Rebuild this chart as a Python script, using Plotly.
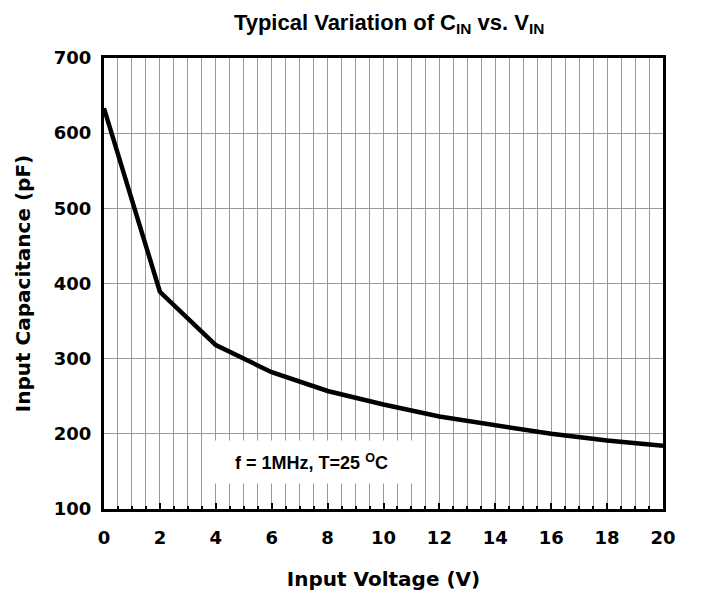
import plotly.graph_objects as go

voltage = [0, 2, 4, 6, 8, 10, 12, 14, 16, 18, 20]
capacitance = [633, 389, 318, 282, 257, 239, 223, 211, 200, 191, 184]
x_ticks = [0, 2, 4, 6, 8, 10, 12, 14, 16, 18, 20]
y_ticks = [100, 200, 300, 400, 500, 600, 700]

wide_font = "DejaVu Sans, sans-serif"
arial_font = "Liberation Sans, Arial, sans-serif"
title_font = "Liberation Sans, Arial, sans-serif"

W, H = 711, 591
L, T, PW, PH = 96, 50, 559, 451

fig = go.Figure()
fig.add_trace(go.Scatter(x=voltage, y=capacitance, mode="lines",
                         line=dict(color="black", width=4.5), showlegend=False))

fig.update_layout(
    width=W, height=H,
    margin=dict(l=L, r=W - L - PW, t=T, b=H - T - PH),
    paper_bgcolor="white", plot_bgcolor="white",
    font=dict(family=wide_font, color="black"),
    title=dict(text="<b>Typical Variation of C<sub>IN</sub> vs. V<sub>IN</sub></b>",
               x=0.51, xref="paper", xanchor="center",
               y=1 - 14 / H, yref="container", yanchor="middle",
               font=dict(size=22, family=title_font)),
)

fig.update_xaxes(
    range=[0, 20], tickvals=x_ticks, ticktext=[f"<b>{v}</b>" for v in x_ticks],
    tickfont=dict(size=18), ticklabelstandoff=10,
    showgrid=True, gridcolor="#999999", gridwidth=1,
    minor=dict(dtick=0.5, showgrid=True, gridcolor="#999999", gridwidth=1,
               ticks="inside", ticklen=3, tickcolor="black"),
    ticks="inside", ticklen=6, tickwidth=2, tickcolor="black",
    showline=True, linecolor="black", linewidth=3, mirror=True,
    zeroline=False,
    title=dict(text="<b>Input Voltage (V)</b>", font=dict(size=20), standoff=26),
)
fig.update_yaxes(
    range=[100, 700], tickvals=y_ticks, ticktext=[f"<b>{v}</b>" for v in y_ticks],
    tickfont=dict(size=18), ticklabelstandoff=6,
    showgrid=True, gridcolor="#999999", gridwidth=1,
    ticks="", showline=True, linecolor="black", linewidth=3, mirror=True,
    zeroline=False,
    title=dict(text="<b>Input Capacitance (pF)</b>", font=dict(size=20), standoff=18),
)

# annotation box (page pixel coords x 210-413, y 442-482, minus 8px body offset)
bx0, bx1, by0, by1 = 202, 405, 434, 474
fig.add_annotation(
    x=((bx0 + bx1) / 2 - L) / PW, y=(T + PH - (by0 + by1) / 2) / PH,
    xref="paper", yref="paper", xanchor="center", yanchor="middle",
    text="<b>f = 1MHz, T=25 <sup>O</sup>C</b>", showarrow=False,
    font=dict(size=18, family=arial_font, color="black"),
    bgcolor="white", width=bx1 - bx0, height=by1 - by0,
)

fig.write_html("out.html")
